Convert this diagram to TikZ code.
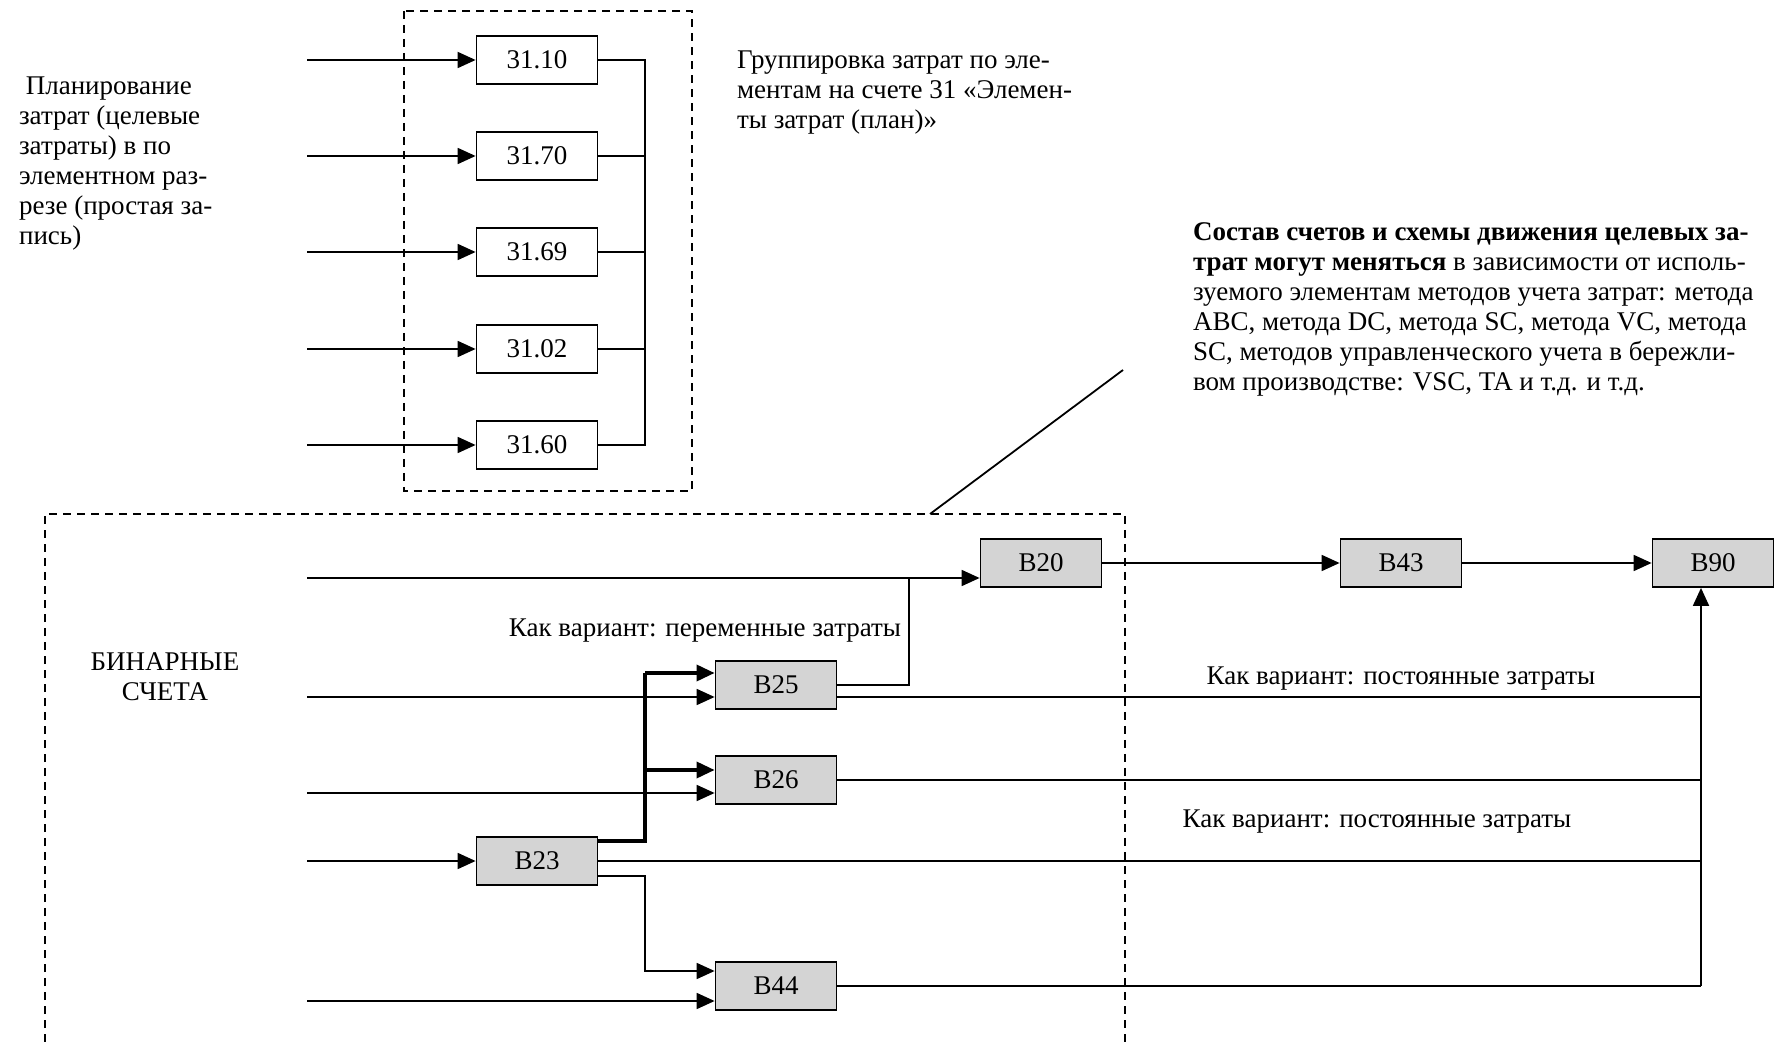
\documentclass[tikz,border=0pt]{standalone}
\usepackage{fontspec}
\setmainfont{Liberation Serif}
\usetikzlibrary{arrows.meta}

\begin{document}
\begin{tikzpicture}[x=0.5pt,y=-0.5pt,
  >={Triangle[length=9pt,width=8pt]},
  every node/.style={font=\fontsize{13.5}{15}\selectfont},
  acc/.style={draw,line width=0.9pt,minimum width=60.5pt,minimum height=24pt,inner sep=0pt},
  bacc/.style={acc,fill=black!17},
  frame/.style={line width=0.7pt,dash pattern=on 4pt off 3pt},
  flow/.style={line width=0.9pt},
  fat/.style={line width=1.7pt}]
  \useasboundingbox (0,0) rectangle (1783,1042);

  % elements of costs, account 31
  \draw[frame] (404,11) rectangle (692,491);
  \node[acc] (a10) at (537,60) {31.10};
  \node[acc] (a70) at (537,156) {31.70};
  \node[acc] (a69) at (537,252) {31.69};
  \node[acc] (a02) at (537,349) {31.02};
  \node[acc] (a60) at (537,445) {31.60};
  \coordinate (i10) at (307,60);
  \coordinate (i70) at (307,156);
  \coordinate (i69) at (307,252);
  \coordinate (i02) at (307,349);
  \coordinate (i60) at (307,445);
  \coordinate (bus) at (645,60);
  \draw[->,flow] (i10) to (a10.west);
  \draw[->,flow] (i70) to (a70.west);
  \draw[->,flow] (i69) to (a69.west);
  \draw[->,flow] (i02) to (a02.west);
  \draw[->,flow] (i60) to (a60.west);
  \draw[flow] (a10.east) -- (bus) -- (bus |- a60.east) -- (a60.east);
  \draw[flow] (a70.east) -- (a70.east -| bus);
  \draw[flow] (a69.east) -- (a69.east -| bus);
  \draw[flow] (a02.east) -- (a02.east -| bus);

  \node[align=left,anchor=north west] (plan) at (12,70)
    {\ Планирование\\затрат (целевые\\затраты) в по\\элементном раз-\\резе (простая за-\\пись)};
  \node[align=left,anchor=north west] (group) at (730,44)
    {Группировка затрат по эле-\\ментам на счете 31 «Элемен-\\ты затрат (план)»};
  \node[align=left,anchor=north west] (note) at (1186,216)
    {\textbf{Состав счетов и схемы движения целевых за-}\\
     \textbf{трат могут меняться} в зависимости от исполь-\\
     зуемого элементам методов учета затрат: метода\\
     ABC, метода DC, метода SC, метода VC, метода\\
     SC, методов управленческого учета в бережли-\\
     вом производстве: VSC, TA и т.д. и т.д.};

  % binary accounts
  \draw[frame] (45,1042) -- (45,514) -- (1125,514) -- (1125,1042);
  \coordinate (tip) at (930,514);
  \draw[flow] (1123,370) -- (tip);
  \node[align=center] (bin) at (165,677) {БИНАРНЫЕ\\СЧЕТА};

  \node[bacc] (b20) at (1041,563) {В20};
  \node[bacc] (b43) at (1401,563) {В43};
  \node[bacc] (b90) at (1713,563) {В90};
  \node[bacc] (b25) at (776,685) {В25};
  \node[bacc] (b26) at (776,780) {В26};
  \node[bacc] (b23) at (537,861) {В23};
  \node[bacc] (b44) at (776,986) {В44};

  \coordinate (i20) at (307,578);
  \coordinate (i25) at (307,697);
  \coordinate (i26) at (307,793);
  \coordinate (i23) at (307,861);
  \coordinate (i44) at (307,1001);
  \coordinate (j20) at (909,578);
  \coordinate (r90) at (1701,986);
  \coordinate (k23) at (645,841);
  \coordinate (u25) at (645,673);
  \coordinate (u26) at (645,770);
  \coordinate (k44) at (645,876);
  \coordinate (d44) at (645,971);

  \draw[->,flow] (i20) to (i20 -| b20.west);
  \draw[->,flow] (i25) to (i25 -| b25.west);
  \draw[->,flow] (i26) to (i26 -| b26.west);
  \draw[->,flow] (i23) to (b23.west);
  \draw[->,flow] (i44) to (i44 -| b44.west);
  \draw[->,flow] (b20.east) to (b43.west);
  \draw[->,flow] (b43.east) to (b90.west);
  \draw[flow] (b25.east) -- (b25.east -| j20) -- (j20);
  \draw[fat] (k23 -| b23.east) -- (k23) -- (u25);
  \draw[->,fat] (u25) to (u25 -| b25.west);
  \draw[->,fat] (u26) to (u26 -| b26.west);
  \draw[->,flow] (k44 -| b23.east) -- (k44) -- (d44) -- (d44 -| b44.west);
  \draw[flow] (i25 -| b25.east) -- (i25 -| r90);
  \draw[flow] (b26.east) -- (b26.east -| r90);
  \draw[flow] (b23.east) -- (b23.east -| r90);
  \draw[flow] (b44.east) -- (r90);
  \draw[->,flow] (r90) to (r90 |- b90.south);

  \node (var1) at (705,631) {Как вариант: переменные затраты};
  \node (var2) at (1401,679) {Как вариант: постоянные затраты};
  \node (var3) at (1377,822) {Как вариант: постоянные затраты};
\end{tikzpicture}
\end{document}
